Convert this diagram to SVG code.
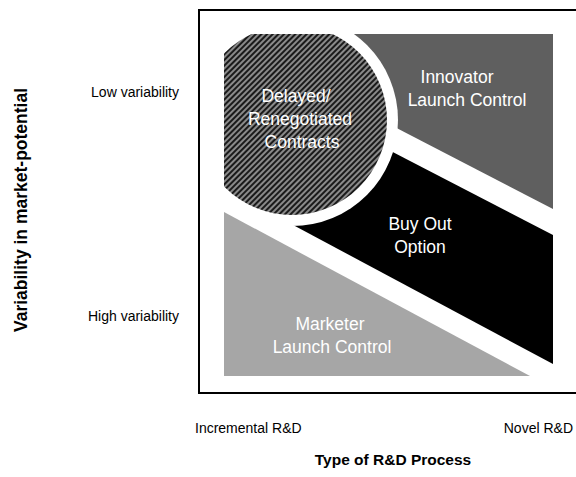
<svg xmlns="http://www.w3.org/2000/svg" width="576" height="477" viewBox="0 0 576 477">
<style>
.lbl{font-family:"Liberation Sans",Arial,sans-serif;fill:#fff;font-size:17.5px;text-anchor:middle}
.ax{font-family:"Liberation Sans",Arial,sans-serif;fill:#000;font-size:14px}
.title{font-family:"Liberation Sans",Arial,sans-serif;fill:#000;font-weight:bold;text-anchor:middle}
</style>
<defs>
<pattern id="hatch" width="4" height="4" patternUnits="userSpaceOnUse" patternTransform="rotate(45)">
<rect width="4" height="4" fill="#8a8a8a"/>
<rect width="2" height="4" fill="#1a1a1a"/>
</pattern>
<clipPath id="sq"><rect x="224" y="34" width="329" height="342"/></clipPath>
</defs>
<g id="innovator">
<polygon points="300,34 553,34 553,209 300,78" fill="#5f5f5f"/>
<text class="lbl" x="457" y="83">Innovator</text>
<text class="lbl" x="467" y="106">Launch Control</text>
</g>
<g id="buyout">
<polygon points="300,104 553,235 553,364 280,218" fill="#000"/>
<text class="lbl" x="420" y="230">Buy Out</text>
<text class="lbl" x="420" y="253">Option</text>
</g>
<g id="marketer">
<polygon points="224,212 530,376 224,376" fill="#a6a6a6"/>
<text class="lbl" x="330" y="330">Marketer</text>
<text class="lbl" x="332" y="353">Launch Control</text>
</g>
<g id="delayed">
<g clip-path="url(#sq)">
<circle cx="292" cy="120" r="106" fill="#fff"/>
<circle cx="292" cy="120" r="95" fill="url(#hatch)"/>
</g>
<text class="lbl" x="296" y="102">Delayed/</text>
<text class="lbl" x="300" y="125">Renegotiated</text>
<text class="lbl" x="302" y="148">Contracts</text>
</g>
<g id="frame">
<rect x="199" y="10" width="380" height="383" fill="none" stroke="#000" stroke-width="2"/>
</g>
<g id="connectors"></g>
<g id="axes">
<text class="ax" x="179" y="97" text-anchor="end">Low variability</text>
<text class="ax" x="179" y="321" text-anchor="end">High variability</text>
<text class="ax" x="195" y="433">Incremental R&amp;D</text>
<text class="ax" x="573" y="433" text-anchor="end">Novel R&amp;D</text>
<text class="title" x="393" y="465" font-size="15.5">Type of R&amp;D Process</text>
<text class="title" transform="translate(27,210) rotate(-90)" font-size="17.5">Variability in market-potential</text>
</g>
</svg>
